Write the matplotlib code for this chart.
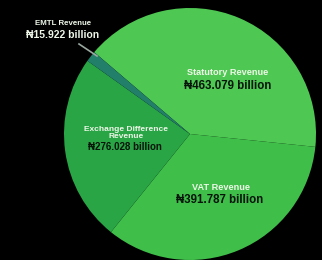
import matplotlib
matplotlib.use("Agg")
from matplotlib import pyplot as plt

# revenue in billions of naira
names = ["Statutory Revenue", "VAT Revenue", "Exchange Difference\nRevenue", "EMTL Revenue"]
values = [463.079, 391.787, 276.028, 15.922]
value_labels = ["₦463.079 billion", "₦391.787 billion", "₦276.028 billion", "₦15.922 billion"]
colors = ["#4ec853", "#3fbe4a", "#29a546", "#22806a"]

W, H = 322, 260
CX, CY, R = 190, 134, 126  # pie centre / radius in pixels (from top-left)


def px(x, y):
    # pixel (from top-left) -> data coords
    return (x - CX) / R, (CY - y) / R


plt.rcParams["font.family"] = ["Liberation Sans", "DejaVu Sans"]

fig = plt.figure(figsize=(W / 100, H / 100), dpi=100, facecolor="black")
ax = fig.add_axes([0, 0, 1, 1])
ax.set_facecolor("black")
ax.pie(values, colors=colors, startangle=139.5, counterclock=False, radius=1,
       wedgeprops=dict(linewidth=0))
ax.set_xlim(-CX / R, (W - CX) / R)
ax.set_ylim(-(H - CY) / R, CY / R)
ax.set_aspect("auto")
ax.axis("off")

# label positions (pixels): name centre, value centre, sizes
spots = [
    ((228, 73), (228, 86), 6.6, 8.3),
    ((221, 188), (220, 200), 6.6, 8.3),
    ((126, 133), (125, 147), 6.0, 7.0),
    ((63, 24), (63, 35), 5.7, 7.5),
]
for i, (p_name, p_val, fs_name, fs_val) in enumerate(spots):
    ax.text(*px(*p_name), names[i], color="#eef7e8", fontsize=fs_name, fontweight="bold",
            ha="center", va="center", linespacing=0.95)
    ax.text(*px(*p_val), value_labels[i],
            color="#eef7e8" if i == 3 else "#06140a",
            fontsize=fs_val, fontweight="bold", ha="center", va="center")

# leader line for the small slice
x0, y0 = px(79, 44)
x1, y1 = px(97, 56)
ax.plot([x0, x1], [y0, y1], color="#9aa8a0", linewidth=1.2)

fig.savefig("out.png", dpi=100, facecolor="black")
